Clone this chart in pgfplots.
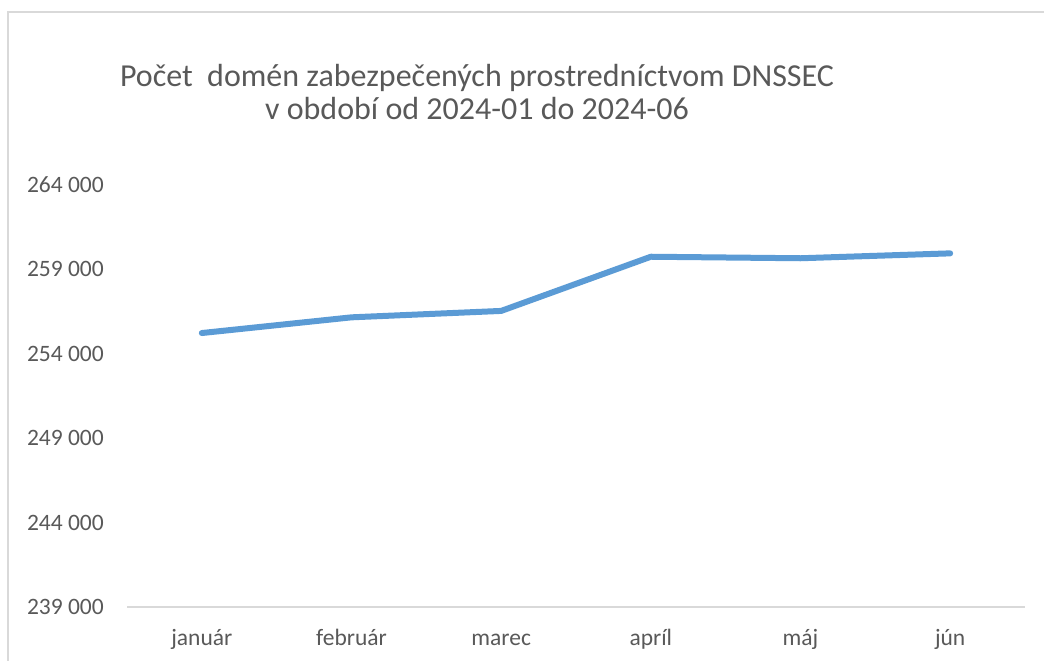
\documentclass[border=0pt]{standalone}
\usepackage{pgfplots}
\pgfplotsset{compat=1.18}
\usepackage{fontspec}
\setmainfont{Carlito}
\definecolor{lineblue}{HTML}{5B9BD5}
\definecolor{txtgray}{HTML}{595959}
\definecolor{framegray}{HTML}{D9D9D9}
\begin{document}
\begin{tikzpicture}
\path[use as bounding box] (0,0) rectangle (1044bp,661bp);
\draw[framegray, line width=1.5bp] (8bp,-5bp) -- (8bp,649bp) -- (1050bp,649bp);
\node[font=\fontsize{32bp}{33bp}\selectfont, text=txtgray, align=center, anchor=base] at (477bp,541bp) {Počet\ \ domén zabezpečených prostredníctvom DNSSEC\\v období od 2024-01 do 2024-06};
\begin{axis}[
  at={(127bp,54bp)}, anchor=south west,
  scale only axis, width=898bp, height=422bp,
  xmin=-0.5, xmax=5.5, ymin=239000, ymax=264000,
  scaled y ticks=false,
  axis x line*=bottom, axis y line*=left,
  x axis line style={draw=framegray, line width=1.5bp},
  y axis line style={draw=none},
  major tick length=0pt,
  xtick={0,1,2,3,4,5},
  xticklabels={január,február,marec,apríl,máj,jún},
  ytick={239000,244000,249000,254000,259000,264000},
  yticklabels={239 000,244 000,249 000,254 000,259 000,264 000},
  tick label style={font=\fontsize{23.5bp}{28bp}\selectfont, text=txtgray},
  yticklabel style={anchor=east, inner sep=0pt, xshift=-23bp},
  xticklabel style={anchor=base, inner sep=0pt, yshift=-39bp},
  clip=false,
]
\addplot[lineblue, line width=6bp, line cap=round, line join=round] coordinates {
  (0,255230) (1,256160) (2,256540) (3,259750) (4,259660) (5,259950)
};
\end{axis}
\end{tikzpicture}
\end{document}
